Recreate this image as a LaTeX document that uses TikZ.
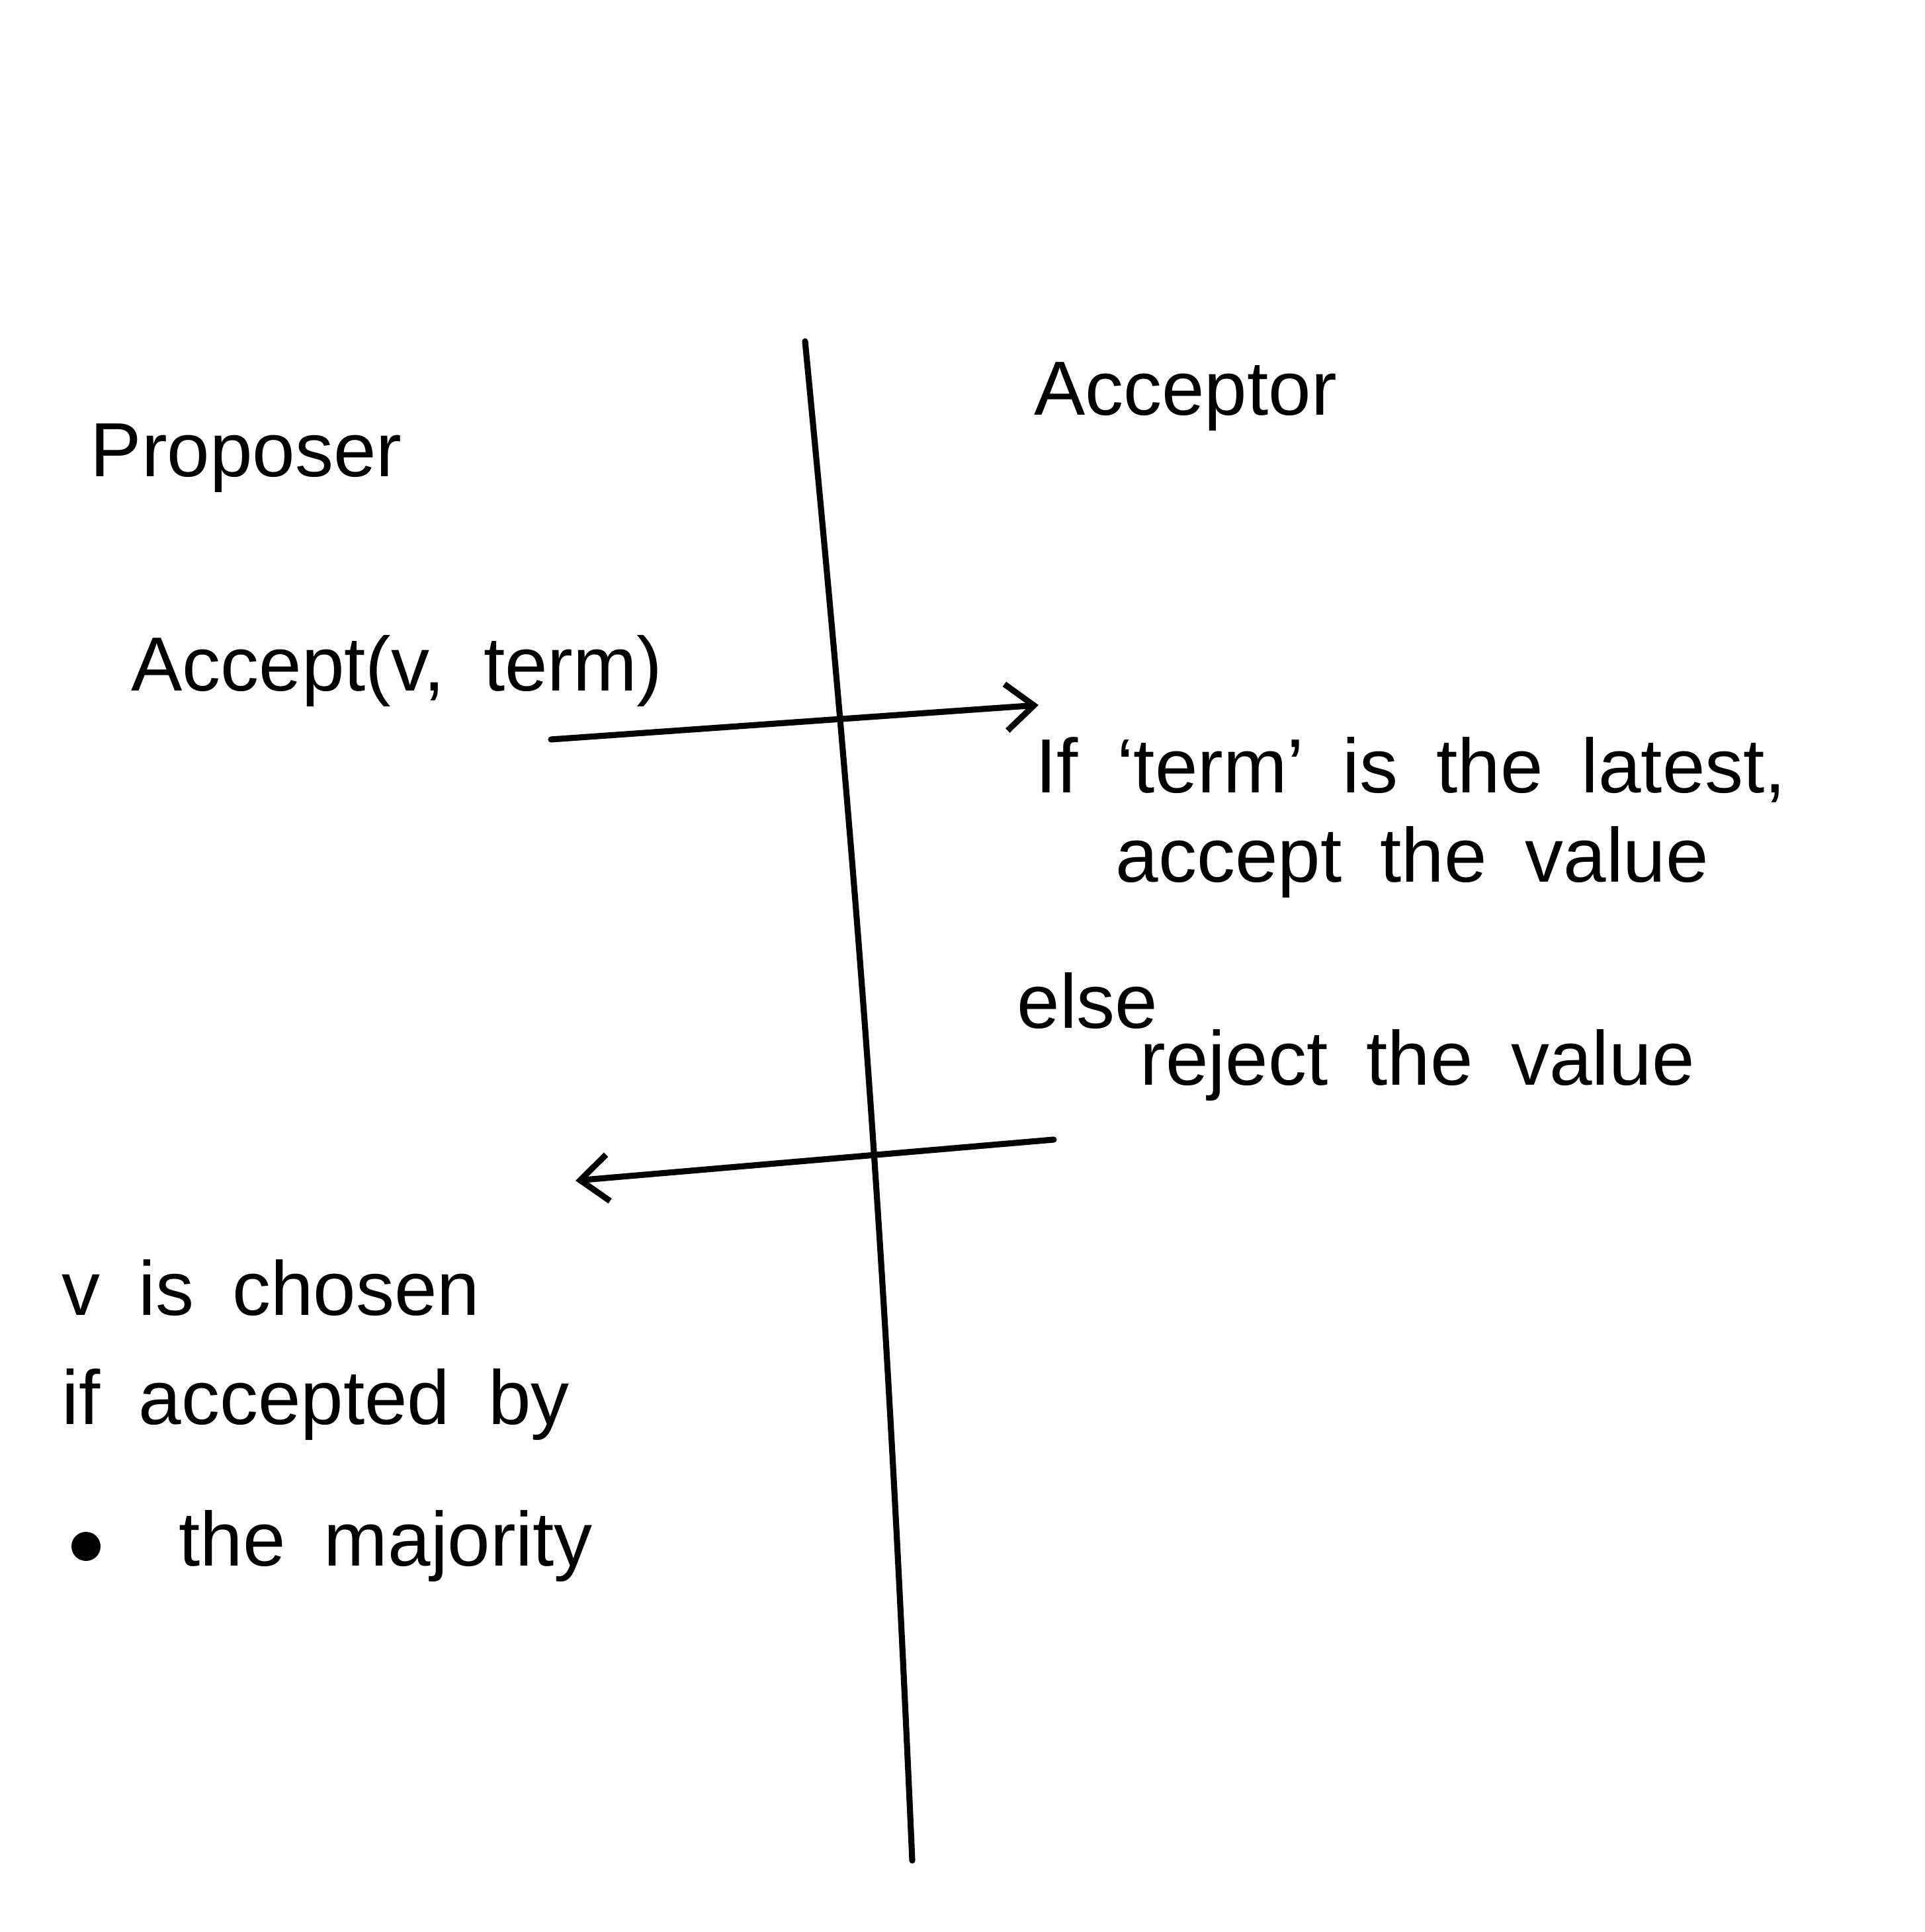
\documentclass[tikz,border=0pt]{standalone}
\usepackage{fontspec}
\setmainfont{Liberation Sans}
\usetikzlibrary{positioning, arrows.meta}

\newcommand\handfont{\fontsize{33}{38}\selectfont\spaceskip=0.5em\relax}
\tikzset{
  hand/.style={font=\handfont, inner sep=0pt},
  msg/.style={line width=2.6pt, line cap=round, -{Straight Barb[length=12pt, width=20pt, line width=2.6pt]}}
}

\begin{document}
\begin{tikzpicture}
  \useasboundingbox (0,0) rectangle (29.10,29.21);

  % the border between the two roles
  \coordinate (top) at (12.17,24.05);
  \coordinate (bot) at (13.79,1.08);
  \draw[line width=2.6pt, line cap=round] (top) to[bend left=1.5] (bot);

  \node[hand] (prop) at (3.72,22.28) {Proposer};
  \node[hand] (acc) at (17.92,23.21) {Acceptor};

  \node[hand] (req) at (6.00,19.06) {Accept(v, term)};
  \coordinate (reqa) at (8.33,18.03);
  \coordinate (reqb) at (15.70,18.55);
  \draw[msg] (reqa) -- (reqb);

  \node[hand, anchor=west] (iff) at (15.65,17.57) {If `term' is the latest,};
  \node[hand, anchor=west] (yes) at (16.86,16.17) {accept the value};
  \node[hand, anchor=west] (els) at (15.37,14.08) {else};
  \node[hand, anchor=west] (no) at (17.23,13.10) {reject the value};

  \coordinate (repa) at (15.93,11.98);
  \coordinate (repb) at (8.70,11.36);
  \draw[msg] (repa) -- (repb);

  \node[hand, anchor=west] (ch1) at (0.93,9.74) {v is chosen};
  \node[hand, anchor=west] (ch2) at (0.93,7.97) {if accepted by};
  \node[hand, anchor=west] (ch3) at (2.70,5.83) {the majority};
  \fill (1.30,5.83) circle (0.22);
\end{tikzpicture}
\end{document}
